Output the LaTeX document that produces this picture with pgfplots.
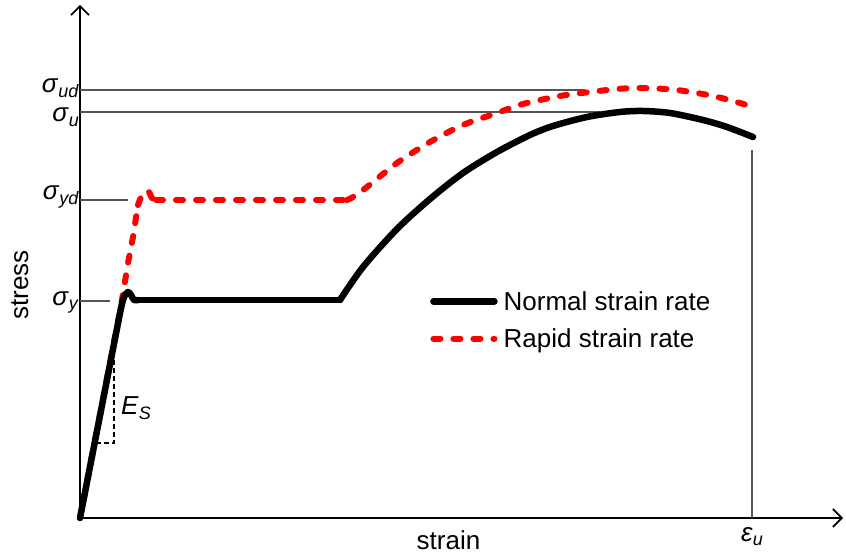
\documentclass[border=0pt]{standalone}
\usepackage{fontspec}
\setmainfont{Liberation Sans}
\usepackage{pgfplots}
\pgfplotsset{compat=1.18}
\usetikzlibrary{arrows.meta}

\newcommand\bigf{\fontsize{26}{31}\selectfont}
\newcommand\subf{\fontsize{18}{20}\selectfont}
% italic symbol with a lowered italic subscript
\newcommand\sym[2]{\textit{#1}\raisebox{-0.18em}{\subf\textit{#2}}}

\definecolor{refgray}{RGB}{85,85,85}

\begin{document}
\begin{tikzpicture}
\begin{axis}[
  x=1pt, y=1pt,
  xmin=0, xmax=763, ymin=0, ymax=513,
  axis lines*=left,
  axis line style={line width=2.2pt, -{Straight Barb[length=9pt,width=18pt,line width=1.6pt]}},
  xtick={672}, xticklabels={\sym{ε}{u}},
  ytick={217,318,406,428},
  yticklabels={\raisebox{-4pt}{\sym{σ}{y}},
               \raisebox{0pt}{\sym{σ}{yd}},
               \raisebox{-10pt}{\sym{σ}{u}},
               \raisebox{-3pt}{\sym{σ}{ud}}},
  major tick length=0pt,
  tick label style={font=\bigf},
  yticklabel style={anchor=base east, inner sep=1pt},
  xticklabel style={inner sep=3pt, yshift=-6pt},
  xlabel={strain}, ylabel={stress},
  label style={font=\bigf},
  xlabel style={at={(axis description cs:0.483,-0.044)}, anchor=center},
  ylabel style={at={(axis description cs:-0.0787,0.454)}, anchor=center},
  clip=false,
  reverse legend,
  legend style={draw=none, fill=none, font=\bigf,
    at={(axis cs:350,198)}, anchor=west, inner sep=0pt, row sep=13pt,
    cells={anchor=west}},
  legend image code/.code={\draw[#1] (0pt,0pt) -- (61pt,0pt);},
]
% page frame
\path (axis cs:-80,-37) rectangle (axis cs:766,518);

% reference levels
\draw[refgray, line width=1.2pt] (axis cs:0,428) -- (axis cs:505,428);
\draw[refgray, line width=1.2pt] (axis cs:0,406) -- (axis cs:520,406);
\draw[refgray, line width=1.2pt] (axis cs:0,318) -- (axis cs:48,318);
\draw[refgray, line width=1.2pt] (axis cs:0,217) -- (axis cs:30,217);
\draw[refgray, line width=1.4pt] (axis cs:672,368) -- (axis cs:672,0);

% elastic modulus triangle
\draw[black, line width=1.1pt, dash pattern=on 5pt off 3pt] (axis cs:34,158) -- (axis cs:34,75) -- (axis cs:18,75);
\node[font=\bigf, anchor=center] at (axis cs:56,110) {\sym{E}{S}};

% rapid strain rate
\pgfplotsset{rapid/.style={red, line width=6pt, line cap=round, line join=round, dash pattern=on 7pt off 13pt}}
\addplot[rapid] coordinates {(0,0) (41,212) (48,255) (53,281) (58,313)};
\addlegendentry{\hspace{4pt}Rapid strain rate}
\addplot[rapid, smooth, forget plot] coordinates {(58,313) (62,323) (66,327) (69,326) (72,320) (76,318)};
\addplot[rapid, forget plot] coordinates {(76,318) (267,318)};
\addplot[rapid, smooth, forget plot] coordinates {
  (267,318) (273,321) (287,331) (317,355) (350,376) (383,393) (417,405)
  (443,414) (480,422) (510,426) (537,429) (557,430) (577,429.5) (597,428)
  (617,425) (633,422) (653,417) (673,411)};

% normal strain rate
\pgfplotsset{normal/.style={black, line width=6.5pt, line cap=round, line join=round}}
\addplot[normal] coordinates {(0,0) (41,210)};
\addlegendentry{\hspace{4pt}Normal strain rate}
\addplot[normal, smooth, forget plot] coordinates {(41,210) (44,221) (48,226) (51,223) (54,218) (58,218)};
\addplot[normal, forget plot] coordinates {(58,218) (260,218)};
\addplot[normal, smooth, forget plot] coordinates {
  (260,218) (283,251) (317,289) (350,319) (383,345) (417,366) (450,383)
  (473,392) (507,401) (540,406) (563,407) (590,405) (623,398) (647,391)
  (673,381)};
\end{axis}
\end{tikzpicture}
\end{document}
